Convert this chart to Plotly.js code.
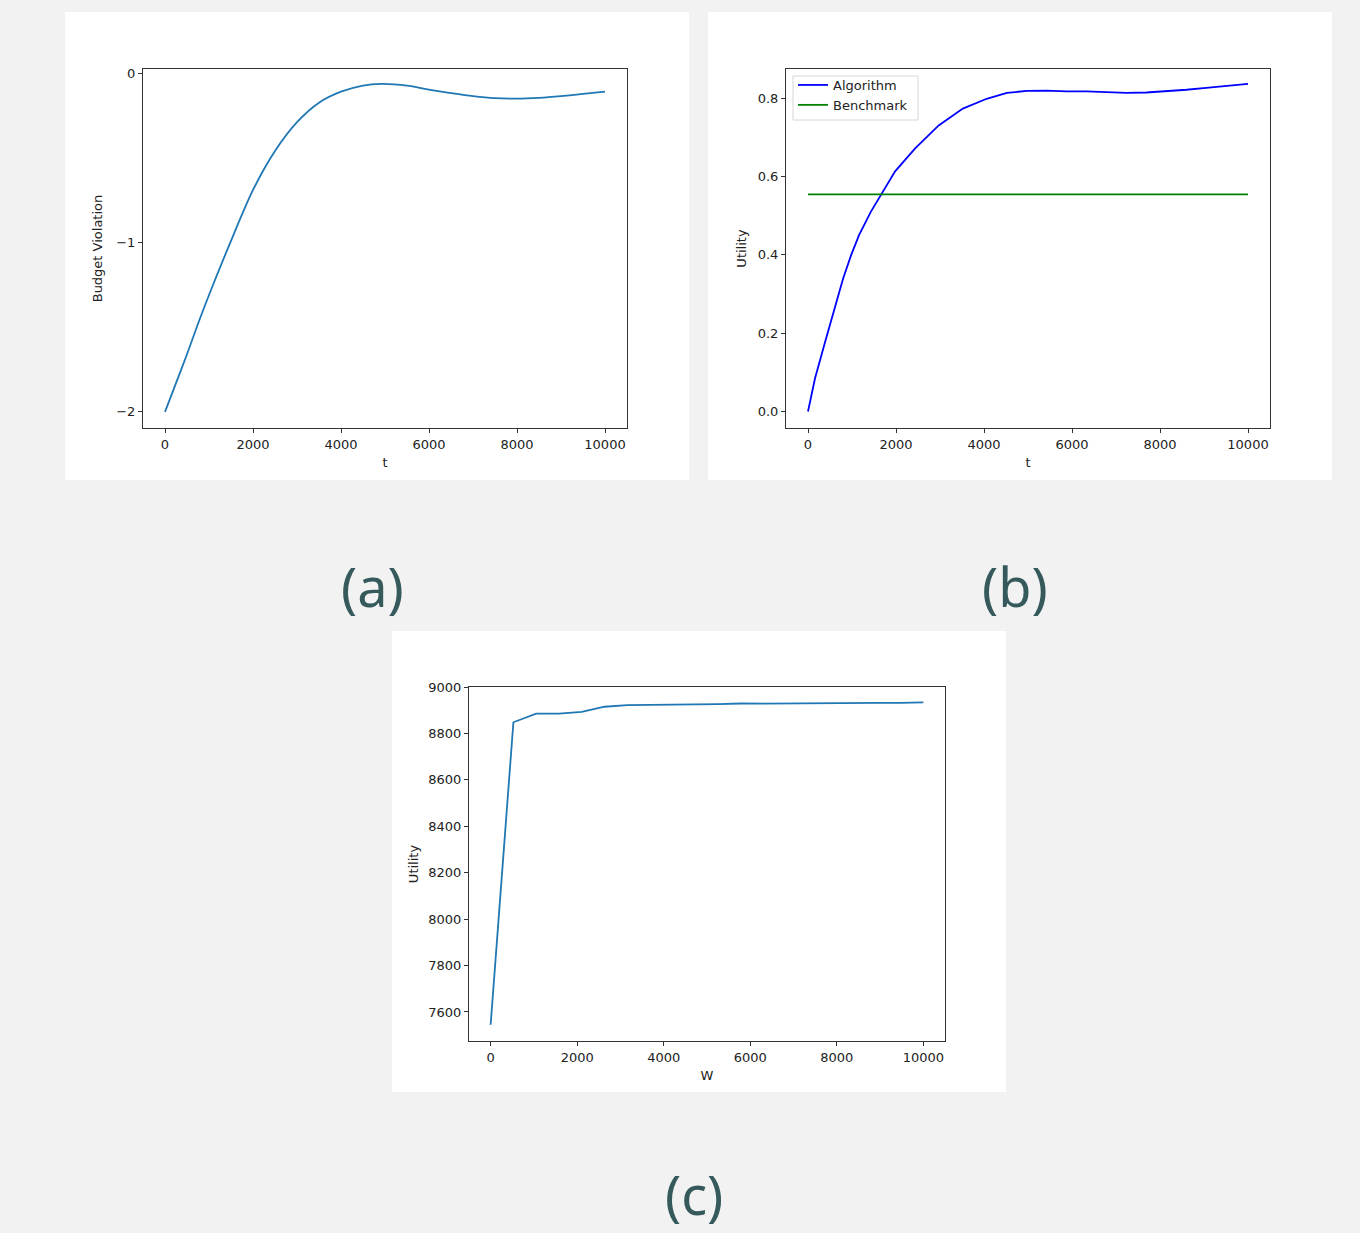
<!DOCTYPE html>
<html>
<head>
<meta charset="utf-8">
<script src="https://cdn.plot.ly/plotly-3.0.1.min.js"></script>
<style>
html,body{margin:0;padding:0;background:#f2f2f2;}
#chart{width:1360px;height:1233px;}
</style>
</head>
<body>
<div id="chart"></div>
<script>
// ---- Data ----
// (a) Budget violation vs t
const tA = [0, 250, 500, 750, 1000, 1500, 2000, 2500, 3000, 3500, 4000, 4500, 4900, 5500, 6000, 6500, 7000, 7500, 8000, 8500, 9000, 9500, 10000];
const budgetViolation = [-2.0, -1.83, -1.66, -1.48, -1.31, -0.99, -0.69, -0.46, -0.29, -0.175, -0.11, -0.074, -0.064, -0.074, -0.098, -0.118, -0.136, -0.148, -0.151, -0.146, -0.136, -0.123, -0.11];

// (b) Utility vs t
const tB = [0, 160, 390, 620, 800, 980, 1160, 1430, 1610, 1980, 2430, 2970, 3520, 4060, 4520, 4970, 5420, 5880, 6330, 6780, 7240, 7690, 8140, 8600, 9050, 9500, 10000];
const algorithmUtility = [0.0, 0.085, 0.178, 0.272, 0.34, 0.399, 0.45, 0.51, 0.544, 0.613, 0.671, 0.73, 0.773, 0.798, 0.813, 0.818, 0.819, 0.817, 0.817, 0.815, 0.813, 0.814, 0.817, 0.821, 0.826, 0.831, 0.836];
const tBench = [0, 10000];
const benchmarkUtility = [0.554, 0.554];

// (c) Utility vs W
const wC = [0, 526, 1053, 1579, 2105, 2632, 3158, 3684, 4211, 4737, 5263, 5789, 6316, 6842, 7368, 7895, 8421, 8947, 9474, 10000];
const utilityC = [7545, 8848, 8885, 8885, 8893, 8915, 8922, 8922, 8925, 8925, 8926, 8929, 8928, 8929, 8932, 8933, 8931, 8932, 8932, 8934];

const xTicks = [0, 2000, 4000, 6000, 8000, 10000];
const xTickText = ["0", "2000", "4000", "6000", "8000", "10000"];
const panelLabels = ["(a)", "(b)", "(c)"];

// ---- Layout helpers ----
const W = 1360, H = 1233;
const fx = p => p / W;
const fy = p => 1 - p / H;

const tickFont = {family: "DejaVu Sans", size: 13, color: "#222"};
const titleFont = {family: "DejaVu Sans", size: 13, color: "#222"};

function axisBase(extra) {
  return Object.assign({
    showgrid: false, zeroline: false, showline: true, mirror: true,
    linecolor: "#333", linewidth: 1, ticks: "outside", ticklen: 4,
    tickcolor: "#333", tickwidth: 1, tickfont: tickFont, automargin: false,
    fixedrange: true
  }, extra);
}

const c0 = "#1f77b4";

const traces = [
  {x: tA, y: budgetViolation, type: "scatter", mode: "lines", line: {color: c0, width: 1.8, shape: "spline", smoothing: 0.8}, xaxis: "x", yaxis: "y", showlegend: false},
  {x: tB, y: algorithmUtility, type: "scatter", mode: "lines", name: "Algorithm", line: {color: "#0000ff", width: 1.8}, xaxis: "x2", yaxis: "y2"},
  {x: tBench, y: benchmarkUtility, type: "scatter", mode: "lines", name: "Benchmark", line: {color: "#008000", width: 1.8}, xaxis: "x2", yaxis: "y2"},
  {x: wC, y: utilityC, type: "scatter", mode: "lines", line: {color: c0, width: 1.8}, xaxis: "x3", yaxis: "y3", showlegend: false}
];

const labelFont = {family: "Noto Sans", size: 54, color: "#365a5c"};

const layout = {
  width: W, height: H,
  margin: {l: 0, r: 0, t: 0, b: 0},
  paper_bgcolor: "#f2f2f2",
  plot_bgcolor: "#ffffff",
  showlegend: true,
  legend: {
    x: fx(793), y: fy(70), xanchor: "left", yanchor: "top",
    bgcolor: "rgba(0,0,0,0)", borderwidth: 0,
    font: {family: "DejaVu Sans", size: 13, color: "#222"},
    itemwidth: 30, tracegroupgap: 0
  },
  xaxis: axisBase({domain: [fx(143), fx(627)], range: [-500, 10500], tickvals: xTicks, ticktext: xTickText, anchor: "y",
    title: {text: "t", font: titleFont, standoff: 7}}),
  yaxis: axisBase({domain: [fy(428), fy(69)], range: [-2.095, 0.024], dtick: 1, anchor: "x",
    title: {text: "Budget Violation", font: titleFont, standoff: 10}}),
  xaxis2: axisBase({domain: [fx(786), fx(1270)], range: [-500, 10500], tickvals: xTicks, ticktext: xTickText, anchor: "y2",
    title: {text: "t", font: titleFont, standoff: 7}}),
  yaxis2: axisBase({domain: [fy(428), fy(69)], range: [-0.042, 0.874], dtick: 0.2, tickformat: ".1f", anchor: "x2",
    title: {text: "Utility", font: titleFont, standoff: 8}}),
  xaxis3: axisBase({domain: [fx(469), fx(945)], range: [-500, 10500], tickvals: xTicks, ticktext: xTickText, anchor: "y3",
    title: {text: "W", font: titleFont, standoff: 7}}),
  yaxis3: axisBase({domain: [fy(1041), fy(687)], range: [7475, 9000], dtick: 200, anchor: "x3",
    title: {text: "Utility", font: titleFont, standoff: 6}}),
  shapes: [
    {type: "rect", xref: "paper", yref: "paper", x0: fx(65), x1: fx(689), y0: fy(480), y1: fy(12), fillcolor: "#ffffff", line: {width: 0}, layer: "below"},
    {type: "rect", xref: "paper", yref: "paper", x0: fx(708), x1: fx(1332), y0: fy(480), y1: fy(12), fillcolor: "#ffffff", line: {width: 0}, layer: "below"},
    {type: "rect", xref: "paper", yref: "paper", x0: fx(392), x1: fx(1006), y0: fy(1092), y1: fy(631), fillcolor: "#ffffff", line: {width: 0}, layer: "below"},
    // legend frame in panel (b)
    {type: "rect", xref: "paper", yref: "paper", x0: fx(793), x1: fx(918), y0: fy(120), y1: fy(76), fillcolor: "rgba(255,255,255,0.9)", line: {width: 1, color: "#d6d6d6"}, layer: "above"}
  ],
  annotations: [
    {text: panelLabels[0], xref: "paper", yref: "paper", x: fx(372), y: fy(586), xanchor: "center", yanchor: "middle", showarrow: false, font: labelFont},
    {text: panelLabels[1], xref: "paper", yref: "paper", x: fx(1015), y: fy(586), xanchor: "center", yanchor: "middle", showarrow: false, font: labelFont},
    {text: panelLabels[2], xref: "paper", yref: "paper", x: fx(694), y: fy(1194), xanchor: "center", yanchor: "middle", showarrow: false, font: labelFont}
  ]
};

Plotly.newPlot("chart", traces, layout, {displayModeBar: false, staticPlot: true});
</script>
</body>
</html>
